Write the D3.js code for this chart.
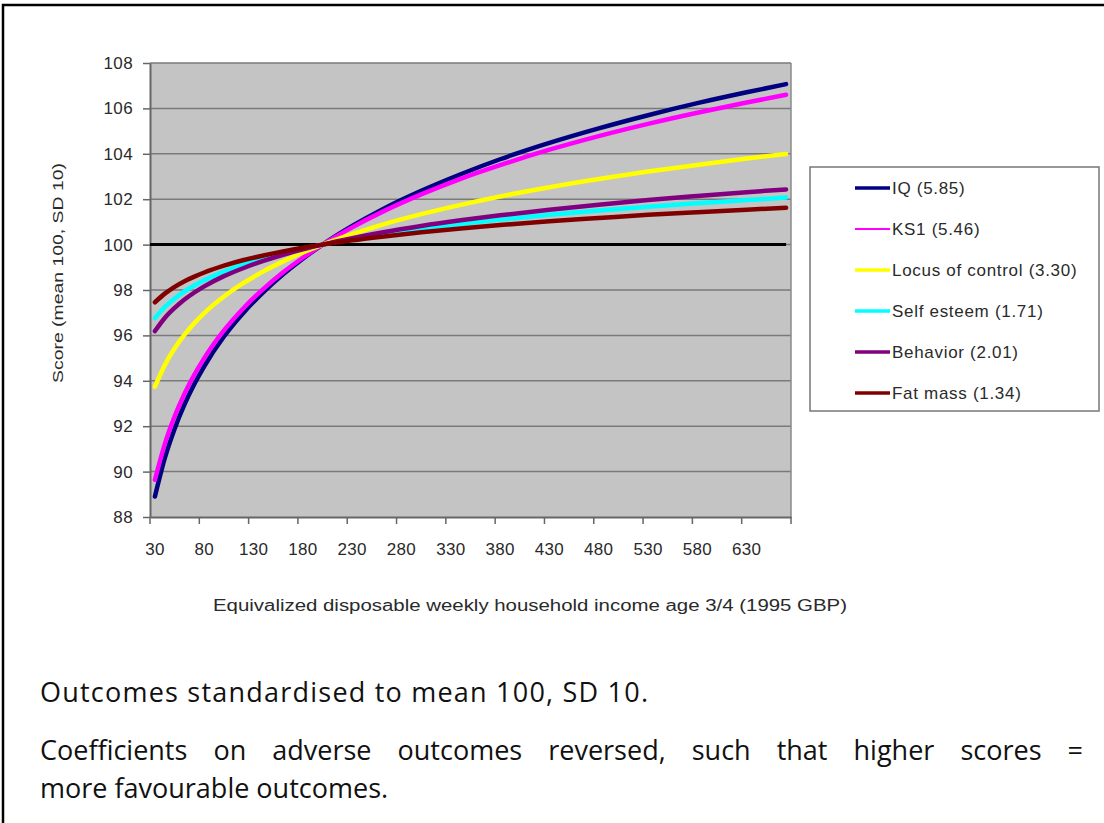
<!DOCTYPE html>
<html>
<head>
<meta charset="utf-8">
<script src="https://cdn.jsdelivr.net/npm/d3@7"></script>
<style>
  html, body { margin: 0; padding: 0; background: #ffffff; }
  svg { display: block; }
</style>
</head>
<body>
<svg id="chart" width="1104" height="823"></svg>
<script>
// ---- Data ----
const categories = [30,40,50,60,70,80,90,100,110,120,130,140,150,160,170,180,190,200,210,220,230,240,250,260,270,280,290,300,310,320,330,340,350,360,370,380,390,400,410,420,430,440,450,460,470,480,490,500,510,520,530,540,550,560,570,580,590,600,610,620,630,640,650,660,670];
const xTickLabels = [30,80,130,180,230,280,330,380,430,480,530,580,630];
const yTicks = [88,90,92,94,96,98,100,102,104,106,108];
const sampleX = [30,40,50,60,70,80,100,120,140,160,180,200,230,260,300,340,380,430,480,530,580,630,670];

const iqValues        = [88.90,90.59,91.89,92.96,93.86,94.64,95.95,97.01,97.91,98.69,99.38,100.00,100.82,101.54,102.37,103.10,103.76,104.48,105.12,105.70,106.23,106.71,107.07];
const ks1Values       = [89.64,91.21,92.43,93.43,94.27,95.00,96.22,97.21,98.05,98.78,99.42,100.00,100.76,101.43,102.21,102.90,103.50,104.18,104.78,105.32,105.81,106.26,106.60];
const locusValues     = [93.74,94.69,95.43,96.03,96.54,96.98,97.71,98.31,98.82,99.26,99.65,100.00,100.46,100.87,101.34,101.75,102.12,102.53,102.89,103.22,103.51,103.79,103.99];
const selfEsteemValues= [96.76,97.25,97.63,97.94,98.20,98.43,98.81,99.13,99.39,99.62,99.82,100.00,100.24,100.45,100.69,100.91,101.10,101.31,101.50,101.67,101.82,101.96,102.07];
const behaviorValues  = [96.19,96.77,97.21,97.58,97.89,98.16,98.61,98.97,99.28,99.55,99.79,100.00,100.28,100.53,100.82,101.07,101.29,101.54,101.76,101.96,102.14,102.31,102.43];
const fatMassValues   = [97.46,97.84,98.14,98.39,98.59,98.77,99.07,99.32,99.52,99.70,99.86,100.00,100.19,100.35,100.54,100.71,100.86,101.03,101.17,101.31,101.43,101.54,101.62];
const baselineValues  = [100,100];
const baselineX       = [30,670];

const seriesNames  = ["IQ (5.85)","KS1 (5.46)","Locus of control (3.30)","Self esteem (1.71)","Behavior (2.01)","Fat mass (1.34)"];
const seriesColors = ["#000080","#ff00ff","#ffff00","#00ffff","#800080","#800000"];
const seriesValues = [iqValues, ks1Values, locusValues, selfEsteemValues, behaviorValues, fatMassValues];

const xTitle = "Equivalized disposable weekly household income age 3/4 (1995 GBP)";
const yTitle = "Score (mean 100, SD 10)";
const note1 = "Outcomes standardised to mean 100, SD 10.";
const note2 = "Coefficients on adverse outcomes reversed, such that higher scores =";
const note3 = "more favourable outcomes.";

// ---- Drawing ----
const svg = d3.select("#chart");
const chartFont = "'Liberation Sans', Arial, sans-serif";
const plot = {left: 150, right: 791, top: 63, bottom: 517};

// outer frame
svg.append("path")
  .attr("d", "M3,823 V5 H1104")
  .attr("fill", "none").attr("stroke", "#000").attr("stroke-width", 2.5);

const x = d3.scaleBand().domain(categories).range([plot.left, plot.right]).padding(0);
const cx = v => x(v) + x.bandwidth() / 2;
const y = d3.scaleLinear().domain([88, 108]).range([plot.bottom, plot.top]);

// plot background
svg.append("rect")
  .attr("x", plot.left).attr("y", plot.top)
  .attr("width", plot.right - plot.left).attr("height", plot.bottom - plot.top)
  .attr("fill", "#c4c4c4");

// gridlines
svg.append("g").selectAll("line").data(yTicks.filter(t => t > 88)).join("line")
  .attr("x1", plot.left).attr("x2", plot.right)
  .attr("y1", d => y(d)).attr("y2", d => y(d))
  .attr("stroke", "#7a7a7a").attr("stroke-width", 1.5);

// right border of plot
svg.append("line")
  .attr("x1", plot.right).attr("x2", plot.right)
  .attr("y1", plot.top).attr("y2", plot.bottom)
  .attr("stroke", "#8a8a8a").attr("stroke-width", 1.5);

// y axis
const yAxis = svg.append("g")
  .attr("transform", `translate(${plot.left},0)`)
  .call(d3.axisLeft(y).tickValues(yTicks).tickSize(7).tickPadding(10).tickSizeOuter(0));
yAxis.select(".domain").attr("stroke", "#666").attr("stroke-width", 2);
yAxis.selectAll(".tick line").attr("stroke", "#666").attr("stroke-width", 1.5);
yAxis.selectAll("text").attr("font-family", chartFont).attr("font-size", 17)
  .attr("letter-spacing", 0.4).attr("fill", "#2a2a2a");

// x axis labels (centered in categories)
const xAxis = svg.append("g")
  .attr("transform", `translate(0,${plot.bottom})`)
  .call(d3.axisBottom(x).tickValues(xTickLabels).tickSize(0).tickPadding(26).tickSizeOuter(0));
xAxis.select(".domain").attr("stroke", "#666").attr("stroke-width", 2);
xAxis.selectAll("text").attr("font-family", chartFont).attr("font-size", 17)
  .attr("letter-spacing", 0.3).attr("fill", "#2a2a2a");

// x axis tick marks at category boundaries
const tickBoundaries = categories.filter((c, i) => i % 5 === 0).map(c => x(c)).concat([x.range()[1]]);
svg.append("g").selectAll("line").data(tickBoundaries).join("line")
  .attr("x1", d => d).attr("x2", d => d)
  .attr("y1", plot.bottom).attr("y2", plot.bottom + 7)
  .attr("stroke", "#666").attr("stroke-width", 1.5);

// axis titles
svg.append("text")
  .attr("x", 530).attr("y", 611)
  .attr("text-anchor", "middle")
  .attr("font-family", chartFont).attr("font-size", 16).attr("fill", "#2a2a2a")
  .attr("textLength", 634).attr("lengthAdjust", "spacingAndGlyphs")
  .text(xTitle);
svg.append("text")
  .attr("transform", "translate(63,273) rotate(-90)")
  .attr("text-anchor", "middle")
  .attr("font-family", chartFont).attr("font-size", 15).attr("fill", "#2a2a2a")
  .attr("textLength", 220).attr("lengthAdjust", "spacingAndGlyphs")
  .text(yTitle);

// lines
const line = d3.line().x(d => cx(d[0])).y(d => y(d[1])).curve(d3.curveMonotoneX);

svg.append("path")
  .datum(baselineX.map((v, i) => [v, baselineValues[i]]))
  .attr("d", d3.line().x((d, i) => i === 0 ? x(d[0]) : cx(d[0])).y(d => y(d[1])))
  .attr("fill", "none").attr("stroke", "#000").attr("stroke-width", 3);

seriesValues.forEach((vals, si) => {
  svg.append("path")
    .datum(sampleX.map((v, i) => [v, vals[i]]))
    .attr("d", line)
    .attr("fill", "none")
    .attr("stroke", seriesColors[si])
    .attr("stroke-width", 4.5)
    .attr("stroke-linecap", "round")
    .attr("stroke-linejoin", "round");
});

// legend
const legend = svg.append("g");
legend.append("rect")
  .attr("x", 810).attr("y", 167).attr("width", 289).attr("height", 244)
  .attr("fill", "#fff").attr("stroke", "#777").attr("stroke-width", 1.5);
seriesNames.forEach((name, i) => {
  const ly = 188 + i * 41;
  legend.append("line")
    .attr("x1", 855).attr("x2", 890).attr("y1", ly).attr("y2", ly)
    .attr("stroke", seriesColors[i]).attr("stroke-width", i === 1 ? 2 : 3.5);
  legend.append("text")
    .attr("x", 892).attr("y", ly).attr("dy", "0.35em")
    .attr("font-family", chartFont).attr("font-size", 17).attr("letter-spacing", 0.7)
    .attr("fill", "#2a2a2a")
    .text(name);
});

// notes below chart
const noteFont = "'Open Sans', 'Noto Sans', sans-serif";
svg.append("text").attr("x", 40).attr("y", 702)
  .attr("font-family", noteFont).attr("font-size", 27).attr("fill", "#111")
  .attr("textLength", 608).attr("lengthAdjust", "spacing")
  .text(note1);
const t2 = svg.append("text").attr("x", 40).attr("y", 760)
  .attr("font-family", noteFont).attr("font-size", 27).attr("fill", "#111").text(note2);
const natural = t2.node().getComputedTextLength();
const nGaps = note2.split(" ").length - 1;
const extra = (1083 - 40 - natural) / nGaps;
t2.attr("word-spacing", extra);
svg.append("text").attr("x", 40).attr("y", 798)
  .attr("font-family", noteFont).attr("font-size", 27).attr("fill", "#111").text(note3);
</script>
</body>
</html>
